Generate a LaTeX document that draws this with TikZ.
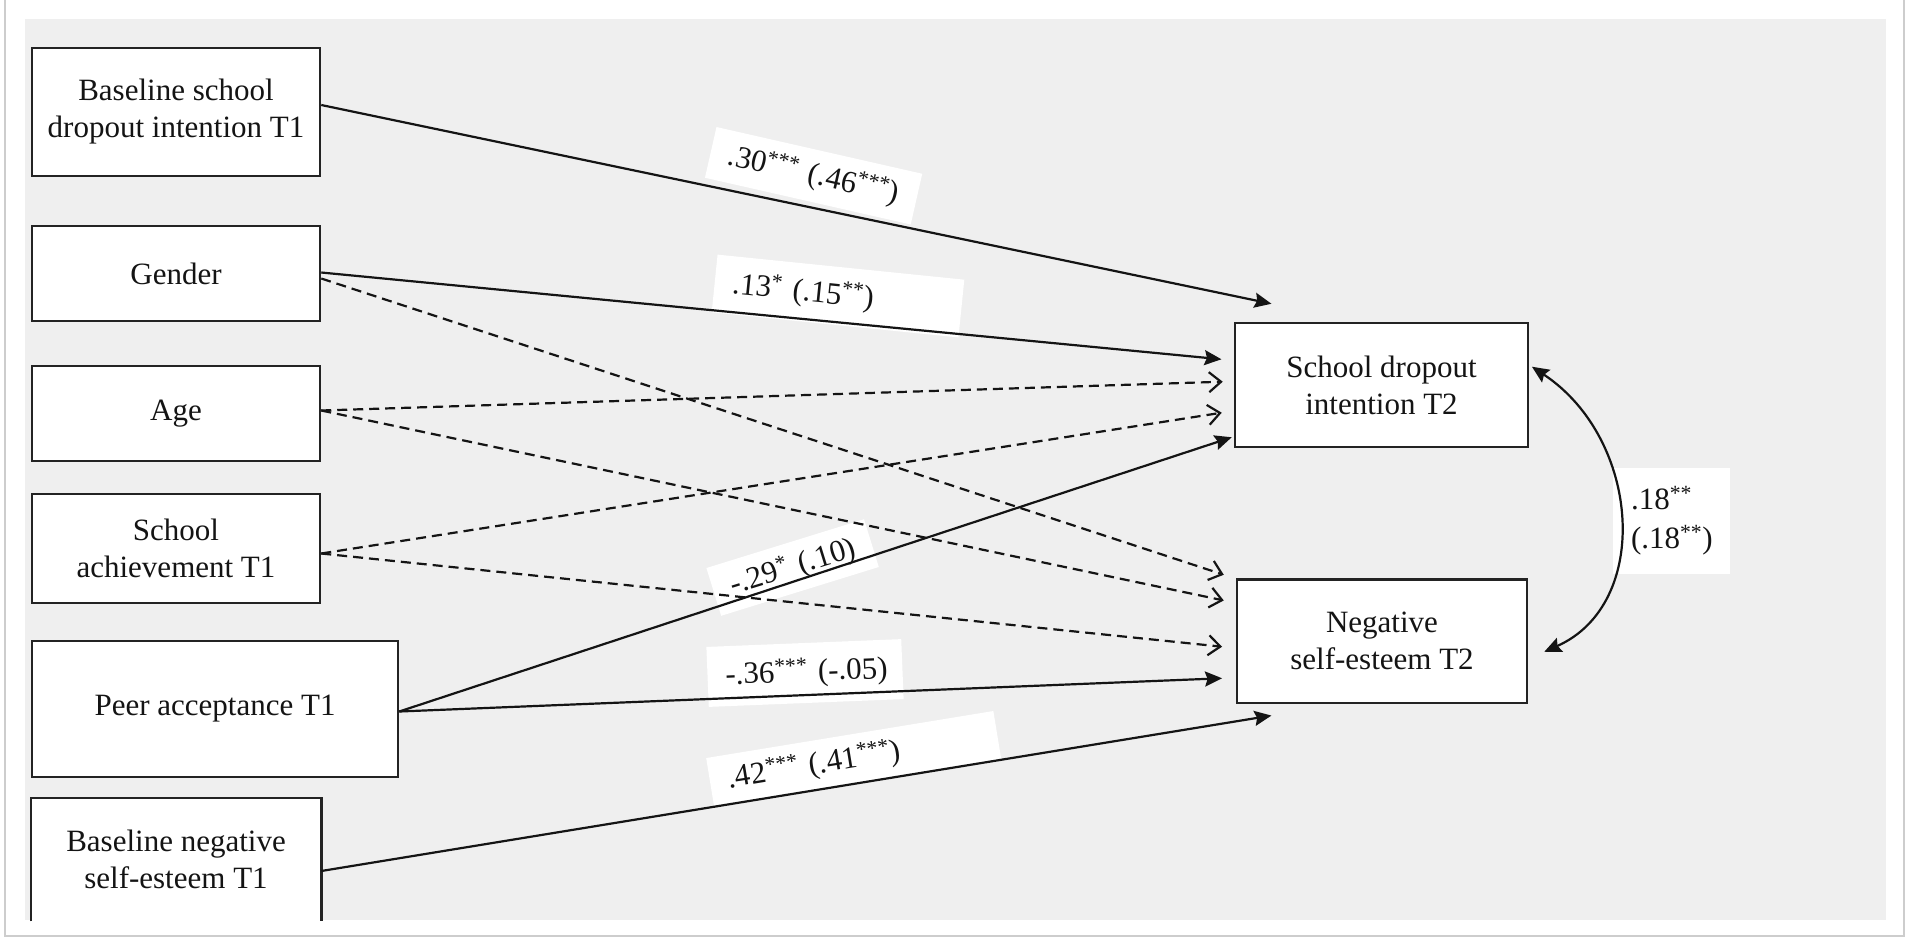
\documentclass[tikz,border=0pt]{standalone}
\usepackage{fontspec}
\setmainfont{Liberation Serif}
\usetikzlibrary{arrows.meta}
\definecolor{bggray}{RGB}{239,239,239}
\definecolor{framegray}{RGB}{205,205,205}
\definecolor{boxedge}{RGB}{35,35,35}
\definecolor{inkcol}{RGB}{20,20,20}
\begin{document}
\begin{tikzpicture}[x=1pt,y=-1pt,
  every node/.style={font=\fontsize{31}{37}\selectfont, text=inkcol},
  varbox/.style={draw=boxedge, line width=2.5pt, fill=white, align=center, inner sep=0pt},
  solidarrow/.style={draw=inkcol, line width=2.2pt, -{Stealth[length=17pt,width=15pt,inset=2.5pt]}},
  dasharrow/.style={draw=inkcol, line width=2.2pt, dash pattern=on 10pt off 6pt, -{Straight Barb[length=12pt,width=20pt]}},
  coefbox/.style={fill=white, inner xsep=18pt, inner ysep=0pt}
]
\useasboundingbox (0,0) rectangle (1907,938);
\fill[white] (0,0) rectangle (1907,938);
\draw[framegray, line width=2.5pt] (5,0) -- (5,936) -- (1904,936) -- (1904,0);
\fill[bggray] (25,19) rectangle (1886,920);

% variable boxes
\node[varbox, minimum width=288pt, minimum height=128pt] (b1) at (176,112) {Baseline school\\dropout intention T1};
\node[varbox, minimum width=288pt, minimum height=95pt] (b2) at (176,273.5) {Gender};
\node[varbox, minimum width=288pt, minimum height=95pt] (b3) at (176,413.5) {Age};
\node[varbox, minimum width=288pt, minimum height=109pt] (b4) at (176,548.5) {School\\achievement T1};
\node[varbox, minimum width=366pt, minimum height=136pt] (b5) at (215,709) {Peer acceptance T1};
\node[varbox, draw=none, minimum width=288pt, minimum height=121pt] (b6) at (176,859.5) {Baseline negative\\self-esteem T1};
\draw[boxedge, line width=2.5pt] (b6.south west) |- (b6.north east) -- (b6.south east);
\node[varbox, minimum width=293pt, minimum height=124pt] (sdi) at (1381.5,385) {School dropout\\intention T2};
\node[varbox, minimum width=290pt, minimum height=123.5pt] (nse) at (1382,641.25) {Negative\\self-esteem T2};

% coefficient labels
\node[coefbox, rotate=-12.8, text width=175pt, minimum height=52pt, align=left] (c1) at (813.6,175.75)
  {\mbox{.30\textsuperscript{***} (.46\textsuperscript{***})}};
\node[coefbox, rotate=-5.8, text width=212pt, minimum height=58pt, align=left] (c2) at (838,296)
  {\mbox{.13\textsuperscript{*} (.15\textsuperscript{**})}};
\node[coefbox, rotate=17.2, text width=129pt, minimum height=50pt, align=left] (c3) at (792.6,567.5)
  {\mbox{-.29\textsuperscript{*} (.10)}};
\node[coefbox, rotate=2.3, text width=159pt, minimum height=60pt, align=center] (c4) at (805,673)
  {\mbox{-.36\textsuperscript{***} (-.05)}};
\node[coefbox, rotate=9.3, text width=255pt, minimum height=50pt, align=left] (c5) at (853.8,759.2)
  {\mbox{.42\textsuperscript{***} (.41\textsuperscript{***})}};
\node[coefbox, text width=81pt, minimum height=106pt, align=left, font=\fontsize{31}{39}\selectfont] (c6) at (1671.5,521)
  {.18\textsuperscript{**}\\(.18\textsuperscript{**})};

% paths
\draw[solidarrow] ([shift={(0,-7)}]b1.east) -- ([shift={(37.7,-18)}]sdi.north west);
\draw[solidarrow] ([shift={(0,-1)}]b2.east) -- ([shift={(-12.3,-25.7)}]sdi.west);
\draw[dasharrow] ([shift={(0,5)}]b2.east) -- ([shift={(-12,-3.5)}]nse.north west);
\draw[dasharrow] ([shift={(0,-3)}]b3.east) -- ([shift={(-11,-3.3)}]sdi.west);
\draw[dasharrow] ([shift={(0,-3)}]b3.east) -- ([shift={(-12,22.2)}]nse.north west);
\draw[dasharrow] ([shift={(0,5)}]b4.east) -- ([shift={(-12,27.7)}]sdi.west);
\draw[dasharrow] ([shift={(0,5)}]b4.east) -- ([shift={(-13.7,5.45)}]nse.west);
\draw[solidarrow] ([shift={(0,2.5)}]b5.east) -- ([shift={(-2,-11)}]sdi.south west);
\draw[solidarrow] ([shift={(0,2.5)}]b5.east) -- ([shift={(-13.7,37)}]nse.west);
\draw[solidarrow] ([shift={(0,11.5)}]b6.east) -- ([shift={(35.7,11.3)}]nse.south west);

% correlation
\draw[draw=inkcol, line width=2.2pt, {Stealth[length=17pt,width=15pt,inset=2.5pt]}-{Stealth[length=17pt,width=15pt,inset=2.5pt]}]
  ([shift={(2.7,-18.3)}]sdi.east) .. controls (1641,439) and (1652,604) .. ([shift={(16,10.5)}]nse.east);
\end{tikzpicture}
\end{document}
